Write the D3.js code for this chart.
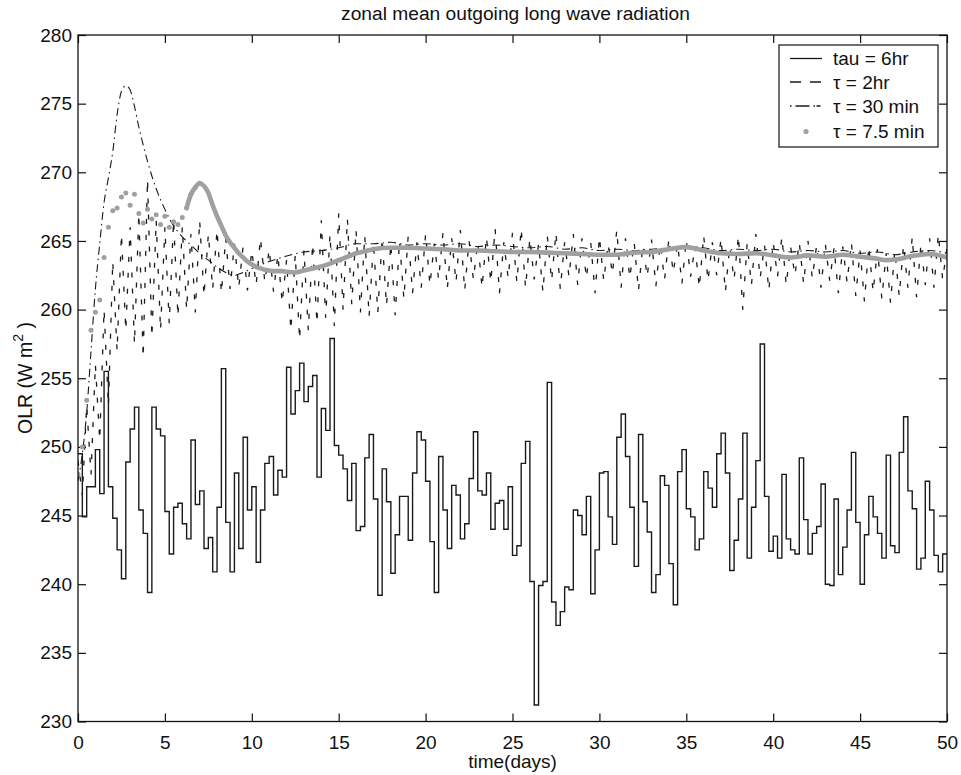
<!DOCTYPE html>
<html>
<head>
<meta charset="utf-8">
<script src="https://cdn.jsdelivr.net/npm/d3@7"></script>
<style>
  body { margin: 0; background: #fff; }
  svg text { font-family: "Liberation Sans", Arial, Helvetica, sans-serif; fill: #111; }
</style>
</head>
<body>
<svg id="chart" width="961" height="775"></svg>
<script>
// tau = 6hr : one OLR value per 6 hour step, starting at day 0
var tau6hrOlr = [
  249.5, 244.9, 247.1, 247.1, 249.8, 246.6, 255.5, 247.1, 244.8, 242.5,
  240.4, 248.9, 251.3, 252.9, 245.4, 243.7, 239.4, 252.9, 251.3, 250.8,
  245.3, 242.2, 245.6, 245.9, 244.4, 243.3, 250.5, 245.8, 246.8, 242.6,
  243.4, 240.9, 245.6, 255.7, 244.5, 240.9, 248.1, 242.6, 250.7, 245.4,
  247.1, 241.6, 245.4, 248.8, 249.3, 246.5, 248.3, 247.8, 255.8, 252.4,
  254.1, 256.1, 253.3,
  254.4, 255.2, 247.8, 252.8, 251.2, 257.9, 250.1, 249.4, 248.4, 246.1,
  248.8, 243.9, 244.2, 249.2, 250.9, 246.2, 239.2, 248.4, 246.0, 240.8,
  243.6, 246.4, 246.4, 243.2, 248.1, 251.1, 250.5, 247.5, 243.1, 239.4,
  249.3, 245.4, 242.6, 247.2, 246.5, 243.3, 244.4, 247.7, 251.1, 246.8,
  246.5, 248.1, 244.0, 245.9, 246.1, 244.0, 247.1, 242.1, 242.8, 248.8,
  250.4, 240.2, 231.2, 239.9, 240.2, 254.7, 238.7, 237.0, 238.0, 239.8,
  239.6, 245.4, 245.0, 243.6, 246.4, 239.3, 242.5, 248.1, 248.2, 244.9,
  242.9, 250.7, 252.4, 249.3, 245.6, 241.3, 250.9, 246.0, 243.8, 239.4,
  240.7, 247.9, 247.2, 241.5, 238.5, 248.2, 249.8, 245.5, 244.9, 242.5,
  243.3, 248.2, 247.0, 245.6, 249.5, 251.0, 248.1, 241.0, 243.2, 246.2,
  251.0, 241.9, 245.6, 249.0, 257.5, 246.4, 242.4, 243.5, 241.9, 248.0,
  243.3, 242.5, 242.2, 249.2, 244.7, 242.2, 243.7, 244.2, 247.3, 240.0,
  239.9, 246.2, 240.7, 242.7, 245.4, 249.6, 244.5, 240.0, 243.6, 246.4,
  244.9, 243.7, 241.9, 249.4, 242.8, 242.3, 249.6, 252.2, 246.8, 245.5,
  241.1, 241.9, 247.5, 245.4, 242.1, 240.9, 242.2
];

// tau = 2hr : read every quarter day, it flips between top and bottom of its band
var tau2hrOlr = [
  249, 246.5, 253, 248, 256, 250.5, 260, 253, 263.5, 257,
  265.5, 258.5, 266, 257.5, 267, 256.5, 269.5, 258, 266.5, 258.5,
  266, 259, 266.5, 259.5, 266, 260, 265.5, 259.8, 266.5, 261,
  265.5, 261.5, 265.8, 261.2, 265.2, 261.5, 264.8, 261.6, 264.6, 261.4,
  264.3, 261.8, 265.2, 262, 264.4, 261.3, 264, 260.5, 263.6, 258.5,
  264, 257.8, 264.3, 258.5, 264.8, 259, 266.5, 259.4, 265.5, 258.8,
  267, 260, 266.6, 260.4, 265.8, 259.8, 265.4, 259.5, 264.9, 259.8,
  265.2, 260.3, 264.8, 259.6, 265, 260.8, 265.4, 261.2, 264.9, 261.6,
  265.5, 261.8, 264.8, 262.2, 265.6, 261.5, 265.2, 262, 265.8, 261.4,
  265, 262.2, 264.9, 261.6, 265.3, 262, 265.9, 261.2, 264.9, 262.3,
  265.6, 262, 265.9, 261.6, 265.2, 262.2, 264.8, 261.3, 265.4, 262.1,
  265.6, 261.5, 264.9, 262.4, 265.5, 261.8, 265.2, 262.3, 264.9, 261.2,
  265.3, 262.1, 264.8, 262.6, 265.8, 261.6, 265.2, 262.3, 264.9, 261.4,
  264.7, 262.4, 265.1, 261.7, 264.8, 262.2, 265.2, 262.7, 264.8, 261.9,
  265.1, 262.4, 264.6, 261.6, 265.4, 262.1, 264.9, 262.5, 265.2, 261.3,
  264.6, 262.2, 265.4, 260.0, 264.8, 261.8, 265.5, 262.3, 264.7, 261.4,
  264.9, 262.4, 265.3, 261.8, 264.6, 262.5, 264.9, 261.9, 265.0, 262.3,
  264.7, 261.6, 264.8, 262.1, 264.5, 261.2, 264.6, 262.0, 264.9, 261.0,
  264.3, 260.6, 264.6, 261.3, 264.4, 260.8, 264.1, 260.5, 264.3, 261.0,
  264.7, 261.6, 265.3, 260.9, 264.8, 261.8, 265.2, 261.6, 265.5, 262.2,
  264.5
];

// tau = 30 min
var tau30Days = [0, 0.25, 0.5, 0.75, 1, 1.25, 1.5, 1.75, 2, 2.25, 2.5, 2.75, 3, 3.25, 3.5, 3.75, 4, 4.5, 5, 5.5,
  6, 6.5, 7, 7.5, 8, 8.5, 9, 9.5, 10, 11, 12, 13, 14, 15, 16, 17, 18, 19, 20, 21,
  22, 23, 24, 25, 26, 27, 28, 29, 30, 31, 32, 33, 34, 35, 36, 37, 38, 39, 40, 41,
  42, 43, 44, 45, 46, 47, 48, 49, 50];
var tau30Olr = [247.5, 249.5, 252.5, 257.0, 261.5, 264.8, 267.8, 269.6, 271.5, 274.2, 275.9, 276.3, 276.0, 274.8, 273.3, 272.0, 270.8, 268.8, 267.3, 266.1,
  265.3, 264.7, 264.1, 263.6, 263.1, 262.7, 262.5, 262.7, 263.0, 263.5, 263.9, 264.2, 264.3, 264.5, 264.8, 264.8, 264.9, 264.7, 264.8, 264.7,
  264.8, 264.6, 264.7, 264.6, 264.5, 264.6, 264.4, 264.5, 264.3, 264.4, 264.3, 264.4, 264.5, 264.6, 264.5, 264.3, 264.4, 264.3, 264.4, 264.2,
  264.3, 264.2, 264.3, 264.1, 264.2, 264.0, 264.2, 264.3, 264.1];

// tau = 7.5 min
var tau7Days = [0, 0.25, 0.5, 0.75, 1, 1.25, 1.5, 1.75, 2, 2.25, 2.5, 2.75, 3, 3.25, 3.5, 3.75, 4, 4.25, 4.5, 4.75,
  5, 5.25, 5.5, 5.75, 6, 6.25, 6.5, 6.75, 7, 7.25, 7.5, 7.75, 8, 8.25, 8.5, 8.75, 9, 9.25, 9.5, 9.75,
  10, 10.25, 10.5, 10.75, 11, 11.25, 11.5, 11.75, 12, 12.5, 13, 13.5, 14, 14.5, 15, 15.5, 16, 16.5, 17, 18,
  19, 20, 21, 22, 23, 24, 25, 26, 27, 28, 29, 30, 31, 32, 33, 34, 35, 36, 37, 38,
  39, 40, 41, 42, 43, 44, 45, 46, 46.5, 47, 48, 49, 50];
var tau7Olr = [248.0, 250.0, 253.4, 258.5, 259.8, 260.7, 263.8, 266.0, 267.2, 267.4, 268.2, 268.5, 267.6, 268.4, 267.0, 266.3, 267.3, 266.6, 266.9, 266.2,
  266.8, 266.0, 266.4, 266.2, 266.7, 267.4, 268.4, 268.9, 269.2, 269.0, 268.5, 267.6, 266.8, 266.1, 265.4, 264.9, 264.5, 264.1, 263.8, 263.5,
  263.3, 263.1, 263.0, 262.9, 262.85, 262.8, 262.8, 262.8, 262.75, 262.7, 262.85, 263.0, 263.15, 263.35, 263.6, 263.85, 264.1, 264.25, 264.4, 264.5,
  264.5, 264.45, 264.4, 264.3, 264.3, 264.25, 264.2, 264.2, 264.15, 264.1, 264.05, 264.0, 264.0, 264.15, 264.2, 264.4, 264.55, 264.3, 264.1, 264.05,
  264.1, 263.95, 263.8, 263.95, 263.85, 264.0, 263.85, 263.7, 263.6, 263.65, 263.9, 264.05, 263.8];

var xTicks = [0, 5, 10, 15, 20, 25, 30, 35, 40, 45, 50];
var yTicks = [230, 235, 240, 245, 250, 255, 260, 265, 270, 275, 280];
var legendLabels = ['tau = 6hr', '\u03c4 = 2hr', '\u03c4 = 30 min', '\u03c4 = 7.5 min'];

(function() {
  var svg = d3.select('#chart');
  var left = 78, right = 947, top = 35, bottom = 721.5;
  var gray = '#a0a0a0';

  var x = d3.scaleLinear().domain([0, 50]).range([left, right]);
  var y = d3.scaleLinear().domain([230, 280]).range([bottom, top]);

  svg.append('defs').append('clipPath').attr('id', 'plotclip')
    .append('rect')
    .attr('x', left).attr('y', top)
    .attr('width', right - left).attr('height', bottom - top);

  // title + axis labels
  svg.append('text')
    .attr('x', (left + right) / 2 + 3).attr('y', 20)
    .attr('text-anchor', 'middle')
    .style('font-size', '19.2px')
    .text('zonal mean outgoing long wave radiation');

  svg.append('text')
    .attr('x', (left + right) / 2).attr('y', 768)
    .attr('text-anchor', 'middle')
    .style('font-size', '19px')
    .text('time(days)');

  var ylab = svg.append('text')
    .attr('transform', 'translate(32,378) rotate(-90)')
    .attr('text-anchor', 'middle')
    .style('font-size', '19.5px');
  ylab.append('tspan').text('OLR (W  m');
  ylab.append('tspan').attr('dy', -9).style('font-size', '14px').text('2');
  ylab.append('tspan').attr('dy', 9).text('  )');

  // axes: ticks inside, on all four sides
  var tickLen = 8;
  var xAxisB = d3.axisBottom(x).tickValues(xTicks).tickSizeInner(-tickLen).tickSizeOuter(0).tickPadding(14);
  var xAxisT = d3.axisTop(x).tickValues(xTicks).tickSizeInner(-tickLen).tickSizeOuter(0).tickFormat('');
  var yAxisL = d3.axisLeft(y).tickValues(yTicks).tickSizeInner(-tickLen).tickSizeOuter(0).tickPadding(6);
  var yAxisR = d3.axisRight(y).tickValues(yTicks).tickSizeInner(-tickLen).tickSizeOuter(0).tickFormat('');

  function styleAxis(g) {
    g.select('.domain').remove();
    g.selectAll('line').attr('stroke', '#111').attr('stroke-width', 1.2);
    g.selectAll('text').style('font-size', '19px').attr('fill', '#111')
      .style('font-family', '"Liberation Sans", Arial, sans-serif');
  }

  svg.append('g').attr('transform', 'translate(0,' + bottom + ')').call(xAxisB).call(styleAxis);
  svg.append('g').attr('transform', 'translate(0,' + top + ')').call(xAxisT).call(styleAxis);
  svg.append('g').attr('transform', 'translate(' + left + ',0)').call(yAxisL).call(styleAxis);
  svg.append('g').attr('transform', 'translate(' + right + ',0)').call(yAxisR).call(styleAxis);

  var plot = svg.append('g').attr('clip-path', 'url(#plotclip)');

  // tau = 6hr, held constant over each 6 hour step
  var steps = tau6hrOlr.map(function(v, i) { return [i * 0.25, v]; });
  steps.push([50, tau6hrOlr[tau6hrOlr.length - 1]]);
  plot.append('path')
    .datum(steps)
    .attr('fill', 'none')
    .attr('stroke', '#1a1a1a')
    .attr('stroke-width', 1.4)
    .attr('d', d3.line().x(function(d) { return x(d[0]); }).y(function(d) { return y(d[1]); }).curve(d3.curveStepAfter));

  // tau = 2hr dashed, sparse strokes
  plot.append('path')
    .datum(tau2hrOlr.map(function(v, i) { return [i * 0.25, v]; }))
    .attr('fill', 'none')
    .attr('stroke', '#1a1a1a')
    .attr('stroke-width', 1.3)
    .attr('stroke-dasharray', '5,11')
    .attr('d', d3.line().x(function(d) { return x(d[0]); }).y(function(d) { return y(d[1]); }));

  // tau = 30 min dash-dot
  plot.append('path')
    .datum(tau30Days.map(function(t, i) { return [t, tau30Olr[i]]; }))
    .attr('fill', 'none')
    .attr('stroke', '#1a1a1a')
    .attr('stroke-width', 1.1)
    .attr('stroke-dasharray', '8,4,1.5,4')
    .attr('d', d3.line().x(function(d) { return x(d[0]); }).y(function(d) { return y(d[1]); }).curve(d3.curveMonotoneX));

  // tau = 7.5 min gray dots, they merge into a thick band once it settles
  var pts7 = tau7Days.map(function(t, i) { return [t, tau7Olr[i]]; });
  plot.append('path')
    .datum(pts7.filter(function(d) { return d[0] >= 6.25; }))
    .attr('fill', 'none')
    .attr('stroke', gray)
    .attr('stroke-width', 4.6)
    .attr('stroke-linecap', 'round')
    .attr('d', d3.line().x(function(d) { return x(d[0]); }).y(function(d) { return y(d[1]); }).curve(d3.curveMonotoneX));
  plot.selectAll('circle.t7')
    .data(pts7.filter(function(d) { return d[0] <= 7; }))
    .enter().append('circle')
    .attr('class', 't7')
    .attr('cx', function(d) { return x(d[0]); })
    .attr('cy', function(d) { return y(d[1]); })
    .attr('r', 2.5)
    .attr('fill', gray);

  // frame
  svg.append('rect')
    .attr('x', left).attr('y', top)
    .attr('width', right - left).attr('height', bottom - top)
    .attr('fill', 'none').attr('stroke', '#111').attr('stroke-width', 1.3);

  // legend
  var lg = svg.append('g').attr('transform', 'translate(779,45)');
  lg.append('rect').attr('width', 159).attr('height', 102)
    .attr('fill', '#fff').attr('stroke', '#111').attr('stroke-width', 1.2);
  var rowY = [13.5, 37, 61, 86.5];
  var dashes = [null, '11,9', '1.5,4,14,4,1.5', null];
  legendLabels.forEach(function(lbl, i) {
    if (i < 3) {
      lg.append('line')
        .attr('x1', 11).attr('x2', 43)
        .attr('y1', rowY[i]).attr('y2', rowY[i])
        .attr('stroke', '#1a1a1a').attr('stroke-width', 1.3)
        .attr('stroke-dasharray', dashes[i]);
    } else {
      lg.append('circle').attr('cx', 27).attr('cy', rowY[i]).attr('r', 2.6).attr('fill', gray);
    }
    lg.append('text')
      .attr('x', 54).attr('y', rowY[i]).attr('dy', '0.35em')
      .style('font-size', '19px')
      .text(lbl);
  });
}());
</script>
</body>
</html>
